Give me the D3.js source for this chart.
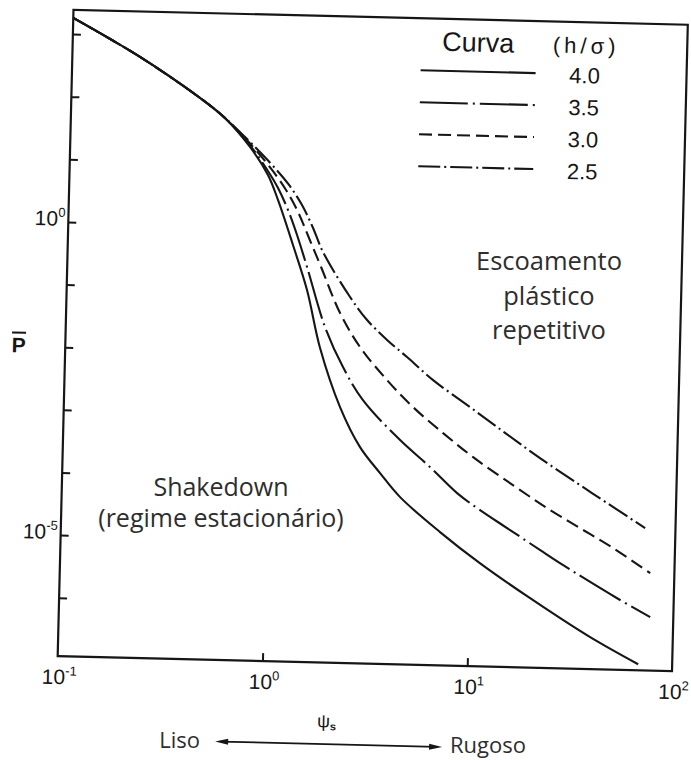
<!DOCTYPE html>
<html>
<head>
<meta charset="utf-8">
<script src="https://cdn.jsdelivr.net/npm/d3@7"></script>
<style>
  body { margin: 0; background: #fff; }
  svg { display: block; }
  .scan { font-family: "Liberation Sans", Arial, sans-serif; fill: #161616; }
  .note { font-family: "Open Sans", sans-serif; fill: #2e2e2e; }
</style>
</head>
<body>
<svg id="chart"></svg>
<script>
// axes
const psiDomain = [0.1, 100];
const pDomain = [1.17e-7, 2440];
const psiTicks = [0.1, 1, 10, 100];
const pTicks = [1e3, 1e2, 1e1, 1, 1e-1, 1e-2, 1e-3, 1e-4, 1e-5, 1e-6];
const pTickLabels = [1, 1e-5];

// all four curves share the start
const commonPsi = [0.1, 0.214, 0.425, 0.565];
const commonP = [1810, 458, 107, 52.6];

// h/sigma = 4.0
const psi40 = [0.755, 0.931, 1.049, 1.257, 1.49, 1.753, 2.23, 2.823, 3.56, 4.49, 7.1, 11.2, 19.9, 39.5, 68.2];
const p40 = [18.5, 6.72, 2.71, 0.524, 0.1016, 0.0122, 1.42e-3, 3.32e-4, 1.3e-4, 5.47e-5, 1.57e-5, 5.2e-6, 1.5e-6, 3.78e-7, 1.46e-7];
// h/sigma = 3.5
const psi35 = [0.772, 0.909, 1.046, 1.177, 1.312, 1.481, 1.843, 2.28, 2.88, 4.42, 6.24, 8.51, 11.07, 15.6, 22.0, 28.6, 52.9, 77.1];
const p35 = [17.9, 8.68, 4.21, 1.89, 0.76, 0.237, 0.0265, 6.19e-3, 1.87e-3, 4.45e-4, 1.69e-4, 6.67e-5, 3.65e-5, 1.8e-5, 8.85e-6, 5.2e-6, 1.62e-6, 8.32e-7];
// h/sigma = 3.0
const psi30 = [0.79, 0.973, 1.145, 1.318, 1.502, 1.734, 2.174, 2.747, 3.754, 5.07, 7.15, 10.09, 15.9, 23.5, 34.2, 49.9, 76.2];
const p30 = [17.9, 8.11, 3.94, 1.773, 0.688, 0.2395, 0.0449, 0.0131, 3.99e-3, 1.51e-3, 5.98e-4, 2.54e-4, 9.42e-5, 4.17e-5, 2.06e-5, 1.02e-5, 4.19e-6];
// h/sigma = 2.5
const psi25 = [0.808, 0.983, 1.183, 1.376, 1.568, 1.765, 2.422, 2.951, 3.714, 4.67, 6.3, 9.62, 14.4, 21.4, 32.7, 46.1, 71.1];
const p25 = [17.9, 9.4, 4.74, 2.3, 0.997, 0.417, 0.0816, 0.0356, 0.0174, 9.46e-3, 4.16e-3, 1.59e-3, 6.32e-4, 2.6e-4, 1.07e-4, 5.29e-5, 2.18e-5];

const curveLabels = ["4.0", "3.5", "3.0", "2.5"];
const curvePsi = [psi40, psi35, psi30, psi25];
const curveP = [p40, p35, p30, p25];

const plasticLines = ["Escoamento", "plástico", "repetitivo"];
const shakedownLines = ["Shakedown", "(regime estacionário)"];

// line styles
const dashes = { "4.0": null, "3.5": "48,5,2,5", "3.0": "13,6", "2.5": "22,4,2,4" };

const width = 691,
  height = 760;
const plot = { left: 65.5, right: 680, top: 17, bottom: 663.5 };
const tilt = 1.4; // the scanned figure sits a bit crooked
const ink = "#161616";

var svg = d3.select("#chart").attr("width", width).attr("height", height);
svg.append("rect").attr("width", width).attr("height", height).attr("fill", "#fff");

var x = d3.scaleLog().domain(psiDomain).range([plot.left, plot.right]);
var y = d3.scaleLog().domain(pDomain).range([plot.bottom, plot.top]);

var page = svg.append("g").attr("transform", "rotate(" + tilt + ",365,340)");

// curves
var line = d3
  .line()
  .x((d) => x(d[0]))
  .y((d) => y(d[1]))
  .curve(d3.curveCatmullRom.alpha(0.5));

var curves = curveLabels.map(function (lab, i) {
  return {
    label: lab,
    points: d3.zip(commonPsi.concat(curvePsi[i]), commonP.concat(curveP[i])),
  };
});

page
  .append("g")
  .selectAll("path")
  .data(curves.slice().reverse())
  .join("path")
  .attr("d", (d) => line(d.points))
  .attr("fill", "none")
  .attr("stroke", ink)
  .attr("stroke-width", 2.1)
  .attr("stroke-dasharray", (d) => dashes[d.label]);

// frame + ticks
page
  .append("rect")
  .attr("x", plot.left)
  .attr("y", plot.top)
  .attr("width", plot.right - plot.left)
  .attr("height", plot.bottom - plot.top)
  .attr("fill", "none")
  .attr("stroke", ink)
  .attr("stroke-width", 2.2);

page
  .append("g")
  .attr("transform", "translate(" + plot.left + ",0)")
  .attr("color", ink)
  .call(d3.axisLeft(y).tickValues(pTicks).tickSize(-8).tickFormat(""))
  .call((g) => g.select(".domain").remove())
  .call((g) => g.selectAll(".tick line").attr("stroke-width", 2));

page
  .append("g")
  .attr("transform", "translate(0," + plot.bottom + ")")
  .attr("color", ink)
  .call(d3.axisBottom(x).tickValues([1, 10]).tickSize(-8).tickFormat(""))
  .call((g) => g.select(".domain").remove())
  .call((g) => g.selectAll(".tick line").attr("stroke-width", 2));

function powerLabel(sel) {
  sel.append("tspan").text("10");
  sel
    .append("tspan")
    .attr("dy", -9)
    .attr("font-size", 13)
    .text((d) => Math.round(Math.log10(d)));
}

page
  .append("g")
  .selectAll("text")
  .data(psiTicks)
  .join("text")
  .attr("class", "scan")
  .attr("x", (d) => x(d) + 2)
  .attr("y", plot.bottom + 28)
  .attr("text-anchor", "middle")
  .attr("font-size", 21)
  .call(powerLabel);

page
  .append("g")
  .selectAll("text")
  .data(pTickLabels)
  .join("text")
  .attr("class", "scan")
  .attr("x", plot.left - 3)
  .attr("y", (d) => y(d) + 4)
  .attr("text-anchor", "end")
  .attr("font-size", 21)
  .call(powerLabel);

// axis titles
page
  .append("text")
  .attr("class", "scan")
  .attr("x", 19)
  .attr("y", 361)
  .attr("text-anchor", "middle")
  .attr("font-size", 21)
  .attr("font-weight", "bold")
  .style("text-decoration", "overline")
  .text("P");

var psiTitle = page
  .append("text")
  .attr("class", "scan")
  .attr("x", 336)
  .attr("y", 728)
  .attr("text-anchor", "middle")
  .attr("font-size", 18);
psiTitle.append("tspan").text("ψ");
psiTitle.append("tspan").attr("dy", 3).attr("font-size", 11).attr("font-weight", "bold").text("s");

// Liso <-> Rugoso arrow
var arrowY = 745;
page
  .append("line")
  .attr("x1", 230)
  .attr("x2", 446)
  .attr("y1", arrowY)
  .attr("y2", arrowY)
  .attr("stroke", ink)
  .attr("stroke-width", 1.8);
page
  .append("path")
  .attr(
    "d",
    "M225," + arrowY + "L238," + (arrowY - 3) + "L238," + (arrowY + 3) + "Z" +
      "M452," + arrowY + "L439," + (arrowY - 3) + "L439," + (arrowY + 3) + "Z"
  )
  .attr("fill", ink);

// legend
var legend = page.append("g").attr("class", "legend");
legend
  .append("text")
  .attr("class", "scan")
  .attr("x", 471)
  .attr("y", 49)
  .attr("text-anchor", "middle")
  .attr("font-size", 27)
  .text("Curva");
legend
  .append("text")
  .attr("class", "scan")
  .attr("x", 579)
  .attr("y", 48)
  .attr("text-anchor", "middle")
  .attr("font-size", 22)
  .attr("letter-spacing", 4)
  .text("(h/σ)");

var rows = legend
  .selectAll(".row")
  .data(curveLabels)
  .join("g")
  .attr("class", "row")
  .attr("transform", (d, i) => "translate(0," + (78 + i * 32) + ")");
rows
  .append("line")
  .attr("x1", 414)
  .attr("x2", 529)
  .attr("y1", -9)
  .attr("y2", -9)
  .attr("stroke", ink)
  .attr("stroke-width", 2.1)
  .attr("stroke-dasharray", (d) => dashes[d]);
rows
  .append("text")
  .attr("class", "scan")
  .attr("x", 578)
  .attr("text-anchor", "middle")
  .attr("font-size", 22)
  .text((d) => d);

// region notes (typed on top of the scan, not tilted)
svg
  .append("g")
  .selectAll("text")
  .data(plasticLines)
  .join("text")
  .attr("class", "note")
  .attr("x", 549)
  .attr("y", (d, i) => [270, 305, 339][i])
  .attr("text-anchor", "middle")
  .attr("font-size", 25.5)
  .text((d) => d);

svg
  .append("g")
  .selectAll("text")
  .data(shakedownLines)
  .join("text")
  .attr("class", "note")
  .attr("x", 221)
  .attr("y", (d, i) => 496 + i * 31)
  .attr("text-anchor", "middle")
  .attr("font-size", 25)
  .text((d) => d);

svg
  .append("text")
  .attr("class", "note")
  .attr("x", 200)
  .attr("y", 748)
  .attr("text-anchor", "end")
  .attr("font-size", 22)
  .text("Liso");
svg
  .append("text")
  .attr("class", "note")
  .attr("x", 450)
  .attr("y", 753)
  .attr("font-size", 22)
  .text("Rugoso");
</script>
</body>
</html>
